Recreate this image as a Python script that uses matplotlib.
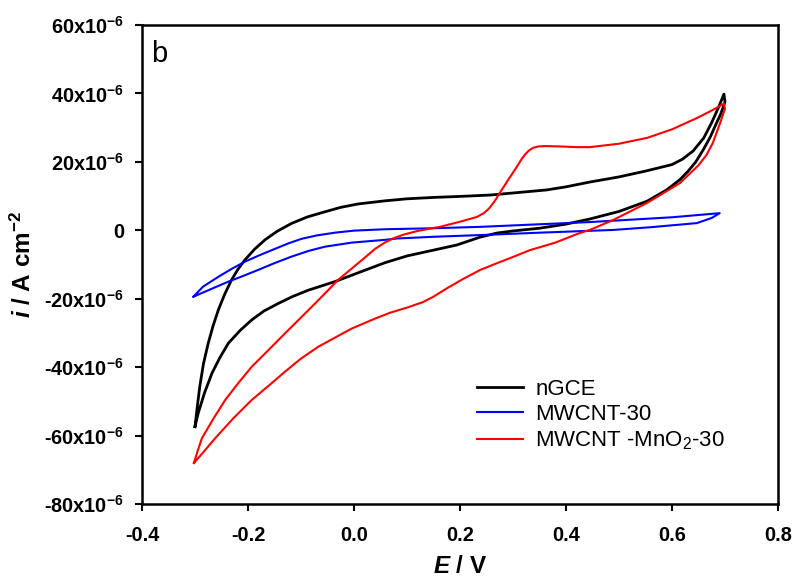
import matplotlib
matplotlib.use("Agg")
import matplotlib.pyplot as plt
from matplotlib.ticker import FuncFormatter, MultipleLocator

# nGCE, full cycle -0.3 V -> 0.7 V -> -0.3 V (current in units of 1e-6 A cm-2)
ngce_e = [-0.300, -0.296, -0.291, -0.284, -0.275, -0.266, -0.256, -0.244, -0.231, -0.219,
          -0.206, -0.188, -0.168, -0.145, -0.118, -0.088, -0.055, -0.025, 0.008, 0.058,
          0.100, 0.150, 0.200, 0.257, 0.300, 0.364, 0.400, 0.445, 0.500, 0.550,
          0.600, 0.620, 0.640, 0.660, 0.675, 0.688, 0.698,
          0.700, 0.692, 0.683, 0.672, 0.660, 0.645, 0.630, 0.615, 0.590, 0.553,
          0.500, 0.445, 0.400, 0.350, 0.300, 0.270, 0.238, 0.194, 0.150, 0.100,
          0.058, 0.015, -0.036, -0.086, -0.115, -0.143, -0.170, -0.193, -0.215, -0.237,
          -0.253, -0.268, -0.282, -0.294, -0.300]
ngce_i = [-57.4, -52.0, -45.7, -39.0, -33.0, -28.0, -23.3, -18.7, -14.5, -11.4,
          -8.7, -5.6, -2.8, -0.3, 2.0, 3.9, 5.4, 6.7, 7.7, 8.6,
          9.2, 9.6, 9.9, 10.3, 10.9, 11.8, 12.7, 14.1, 15.6, 17.3,
          19.2, 20.8, 23.2, 27.0, 31.5, 36.0, 39.8,
          37.5, 34.0, 31.0, 27.2, 23.8, 20.0, 17.2, 14.8, 11.8, 8.5,
          5.5, 3.3, 1.8, 0.6, -0.2, -0.8, -2.0, -4.3, -5.8, -7.5,
          -9.5, -12.0, -15.0, -17.5, -19.3, -21.4, -23.6, -26.2, -29.3, -33.0,
          -37.2, -41.8, -47.5, -53.5, -57.4]

# MWCNT-30
mwcnt_e = [-0.303, -0.285, -0.256, -0.230, -0.206, -0.180, -0.155, -0.125, -0.099, -0.070,
           -0.036, 0.000, 0.058, 0.150, 0.238, 0.445, 0.600, 0.690,
           0.675, 0.647, 0.560, 0.489, 0.350, 0.238, 0.150, 0.081, 0.058, -0.004,
           -0.055, -0.085, -0.118, -0.150, -0.181, -0.210, -0.237, -0.270, -0.303]
mwcnt_i = [-19.4, -16.5, -13.6, -11.2, -9.2, -7.4, -5.8, -3.9, -2.5, -1.5,
           -0.7, -0.1, 0.3, 0.6, 1.0, 2.4, 3.8, 5.0,
           3.6, 2.1, 0.9, 0.1, -0.7, -1.4, -1.9, -2.4, -2.8, -3.6,
           -4.8, -6.0, -7.7, -9.6, -11.6, -13.4, -15.0, -17.2, -19.4]

# MWCNT-MnO2-30
mno2_e = [-0.302, -0.295, -0.287, -0.265, -0.243, -0.218, -0.193, -0.160, -0.130, -0.098,
          -0.067, -0.030, 0.015, 0.040, 0.058, 0.075, 0.095, 0.120, 0.162, 0.200,
          0.232, 0.245, 0.255, 0.265, 0.275, 0.290, 0.307, 0.315, 0.322, 0.330,
          0.338, 0.348, 0.360, 0.390, 0.420, 0.445, 0.500, 0.553, 0.600, 0.647,
          0.675, 0.698,
          0.700, 0.690, 0.677, 0.665, 0.650, 0.615, 0.580, 0.553, 0.489, 0.445,
          0.426, 0.380, 0.332, 0.300, 0.270, 0.238, 0.205, 0.175, 0.150, 0.130,
          0.100, 0.068, 0.040, -0.004, -0.035, -0.067, -0.100, -0.130, -0.160, -0.193,
          -0.228, -0.262, -0.285, -0.302]
mno2_i = [-68.0, -64.5, -60.8, -55.0, -49.6, -44.6, -39.9, -34.8, -30.1, -25.2,
          -20.4, -14.5, -8.7, -5.4, -3.6, -2.3, -1.2, -0.2, 1.0, 2.5,
          3.9, 5.0, 6.4, 8.4, 10.9, 14.5, 18.5, 20.5, 22.0, 23.3,
          24.1, 24.5, 24.6, 24.5, 24.3, 24.3, 25.3, 27.0, 29.5, 32.8,
          35.0, 37.0,
          35.5, 31.0, 25.5, 22.0, 19.0, 13.8, 10.5, 8.0, 3.0, 0.1,
          -0.8, -3.6, -5.8, -7.8, -9.6, -11.6, -14.3, -17.0, -19.4, -21.0,
          -22.6, -24.1, -25.8, -28.7, -31.3, -34.0, -37.5, -41.3, -45.3, -49.6,
          -55.0, -60.8, -65.0, -68.0]

labels = ["nGCE", "MWCNT-30", r"MWCNT -MnO$_{\mathsf{2}}$-30"]

plt.rcParams["font.family"] = ["Liberation Sans", "DejaVu Sans"]
plt.rcParams["mathtext.fontset"] = "custom"
plt.rcParams["mathtext.rm"] = "Liberation Sans:bold"
plt.rcParams["mathtext.bf"] = "Liberation Sans:bold"
plt.rcParams["mathtext.it"] = "Liberation Sans:italic:bold"
plt.rcParams["mathtext.sf"] = "Liberation Sans"
plt.rcParams["axes.unicode_minus"] = False

fig = plt.figure(figsize=(7.95, 5.81), dpi=100)
ax = fig.add_axes([0.1786, 0.1325, 0.8, 0.8245])

ax.plot(ngce_e, ngce_i, color="black", lw=2.0, label=labels[0])
ax.plot(mwcnt_e, mwcnt_i, color="#0000ff", lw=1.5, label=labels[1])
ax.plot(mno2_e, mno2_i, color="#ff0000", lw=1.5, label=labels[2])

ax.set_xlim(-0.4, 0.8)
ax.set_ylim(-80, 60)
ax.xaxis.set_major_locator(MultipleLocator(0.2))
ax.yaxis.set_major_locator(MultipleLocator(20))


def fmt_y(v, pos):
    if abs(v) < 1e-9:
        return "0"
    return r"%dx10$^{\mathbf{-6}}$" % round(v)


ax.yaxis.set_major_formatter(FuncFormatter(fmt_y))
ax.xaxis.set_major_formatter(FuncFormatter(lambda v, pos: "%.1f" % v))

for s in ax.spines.values():
    s.set_linewidth(1.8)
ax.tick_params(direction="out", length=5, width=1.5, labelsize=14.3)
ax.tick_params(axis="x", pad=11)
ax.tick_params(axis="y", pad=8)
for t in ax.get_xticklabels() + ax.get_yticklabels():
    t.set_fontweight("bold")

ax.set_xlabel(r"$\mathit{E}$ / V", fontsize=17.5, fontweight="bold", labelpad=7)
ax.set_ylabel(r"$\mathit{i}$ / A cm$^{\mathbf{-2}}$", fontsize=17.5, fontweight="bold", labelpad=6)

ax.text(0.014, 0.923, "b", transform=ax.transAxes, fontsize=21, va="baseline", ha="left")

ax.legend(loc="upper left", bbox_to_anchor=(0.527, 0.262), frameon=False, fontsize=16,
          handlelength=2.07, handletextpad=0.54, labelspacing=0.2, borderpad=0, borderaxespad=0)

fig.savefig("out.png", dpi=100)
